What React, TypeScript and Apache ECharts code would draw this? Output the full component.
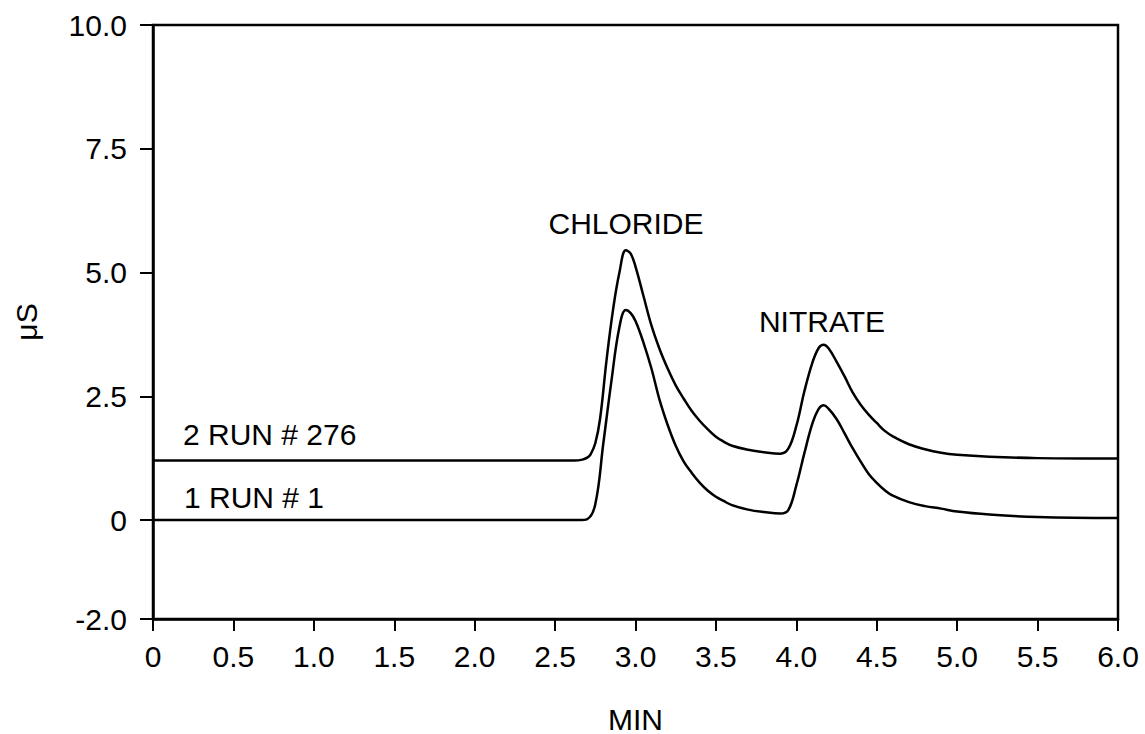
import React, { useEffect, useRef } from "react";
import * as echarts from "echarts";

// Run #1 (lower trace)
const run1Time = [
  0, 2.5, 2.65, 2.7, 2.75, 2.8, 2.85, 2.9, 2.94, 2.97, 3.0, 3.05, 3.1, 3.15, 3.2, 3.25, 3.3, 3.35,
  3.4, 3.45, 3.5, 3.55, 3.6, 3.7, 3.8, 3.9, 3.95, 4.0, 4.05, 4.1, 4.14, 4.17, 4.2, 4.25, 4.3, 4.35,
  4.4, 4.45, 4.5, 4.55, 4.6, 4.7, 4.8, 4.9, 5.0, 5.2, 5.5, 6.0,
];
const run1Signal = [
  0, 0, 0, 0.02, 0.32, 1.55, 2.8, 3.9, 4.24, 4.18, 4.02, 3.58, 3.05, 2.42, 1.92, 1.5, 1.18, 0.95,
  0.75, 0.59, 0.47, 0.38, 0.3, 0.21, 0.16, 0.13, 0.2, 0.7, 1.35, 1.95, 2.25, 2.32, 2.25, 2.04, 1.75,
  1.45, 1.18, 0.93, 0.75, 0.6, 0.49, 0.36, 0.28, 0.23, 0.17, 0.11, 0.06, 0.04,
];

// Run #276 (upper trace)
const run276Time = [
  0, 2.5, 2.62, 2.67, 2.7, 2.72, 2.75, 2.78, 2.82, 2.86, 2.9, 2.94, 2.97, 3.0, 3.05, 3.1, 3.15,
  3.2, 3.25, 3.3, 3.35, 3.4, 3.45, 3.5, 3.55, 3.6, 3.7, 3.8, 3.9, 3.95, 4.0, 4.05, 4.1, 4.14, 4.17,
  4.2, 4.25, 4.3, 4.35, 4.4, 4.45, 4.5, 4.55, 4.6, 4.7, 4.8, 4.9, 5.0, 5.2, 5.5, 6.0,
];
const run276Signal = [
  1.2, 1.2, 1.2, 1.22, 1.26, 1.32, 1.55, 2.05, 3.23, 4.24, 5.0, 5.45, 5.38, 5.12, 4.52, 3.92, 3.45,
  3.06, 2.72, 2.45, 2.2, 2.0, 1.83, 1.68, 1.58, 1.5, 1.42, 1.37, 1.34, 1.44, 1.9, 2.6, 3.18, 3.48,
  3.54, 3.47, 3.2, 2.9, 2.58, 2.33, 2.13, 1.96, 1.8, 1.69, 1.53, 1.43, 1.36, 1.32, 1.28, 1.25, 1.24,
];

const yTickValues = [-2, 0, 2.5, 5, 7.5, 10];
const xAxisTitle = "MIN";
const yAxisTitle = "μS";
const peakNames = ["CHLORIDE", "NITRATE"];
const runNames = ["2 RUN # 276", "1 RUN # 1"];

export default function App() {
  const ref = useRef<HTMLDivElement>(null);

  useEffect(() => {
    const chart = echarts.init(ref.current!, null, { renderer: "svg" });
    const font = "'Liberation Sans', Arial, Helvetica, sans-serif";
    const fs = 30;
    const fmt = (v: number) => (v === 0 ? "0" : v.toFixed(1));
    const textEl = (text: string, x: number, y: number, align: string) => ({
      type: "text",
      x,
      y,
      silent: true,
      style: {
        text,
        fill: "#000",
        fontSize: fs,
        fontFamily: font,
        align,
        verticalAlign: "middle",
        textAlign: align,
        textVerticalAlign: "middle",
      },
    });

    chart.setOption({
      animation: false,
      backgroundColor: "#ffffff",
      grid: {
        left: 153,
        right: 27,
        top: 25,
        bottom: 115,
        outerBoundsMode: "none",
        containLabel: false,
        show: true,
        borderColor: "#000",
        borderWidth: 2.5,
        backgroundColor: "transparent",
      },
      xAxis: {
        type: "value",
        min: 0,
        max: 6,
        interval: 0.5,
        name: xAxisTitle,
        nameLocation: "middle",
        nameGap: 86,
        nameTextStyle: { color: "#000", fontSize: fs, fontFamily: font, lineHeight: 28 },
        axisLine: { show: true, onZero: false, lineStyle: { color: "#000", width: 2.5 } },
        axisTick: { show: true, inside: false, length: 12, lineStyle: { color: "#000", width: 2 } },
        axisLabel: { color: "#000", fontSize: fs, fontFamily: font, margin: 22, formatter: fmt },
        splitLine: { show: false },
      },
      yAxis: {
        type: "value",
        min: -2,
        max: 10,
        name: yAxisTitle,
        nameLocation: "middle",
        nameRotate: 90,
        nameGap: 112,
        nameTextStyle: { color: "#000", fontSize: fs, fontFamily: font, lineHeight: 30 },
        axisLine: { show: true, onZero: false, lineStyle: { color: "#000", width: 2.5 } },
        axisTick: {
          show: true,
          inside: false,
          length: 13,
          customValues: yTickValues,
          lineStyle: { color: "#000", width: 2 },
        },
        axisLabel: {
          color: "#000",
          fontSize: fs,
          fontFamily: font,
          margin: 26,
          customValues: yTickValues,
          formatter: fmt,
        },
        splitLine: { show: false },
      },
      series: [
        {
          name: runNames[0],
          type: "line",
          data: run276Time.map((t, i) => [t, run276Signal[i]]),
          smooth: 0.4,
          showSymbol: false,
          lineStyle: { color: "#000", width: 2.5 },
        },
        {
          name: runNames[1],
          type: "line",
          data: run1Time.map((t, i) => [t, run1Signal[i]]),
          smooth: 0.4,
          showSymbol: false,
          lineStyle: { color: "#000", width: 2.5 },
        },
      ],
      graphic: [
        textEl(peakNames[0], 626, 223, "center"),
        textEl(peakNames[1], 822, 321, "center"),
        textEl(runNames[0], 183, 434, "left"),
        textEl(runNames[1], 184, 497, "left"),
      ],
    });

    return () => chart.dispose();
  }, []);

  return (
    <div
      ref={ref}
      style={{ position: "fixed", left: 0, top: 0, width: 1145, height: 734 }}
    />
  );
}
